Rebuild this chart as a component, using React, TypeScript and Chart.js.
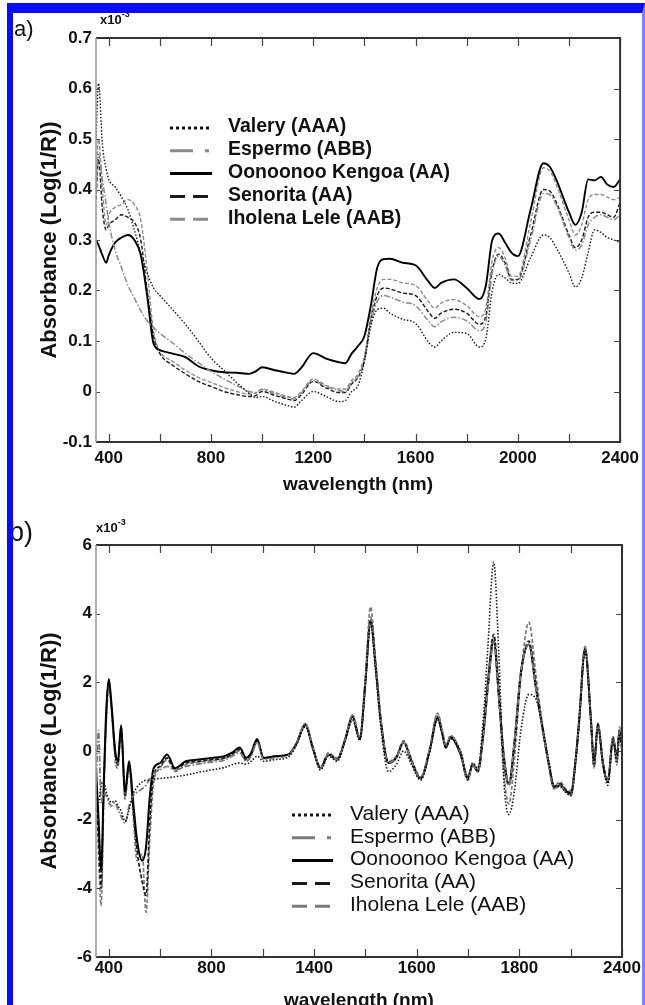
import React, { useEffect, useRef } from 'react';
import { Chart, registerables } from 'chart.js';

Chart.register(...registerables);

const FONT = '"Liberation Sans", Arial, Helvetica, sans-serif';

const seriesNames = ['Valery (AAA)', 'Espermo (ABB)', 'Oonoonoo Kengoa (AA)', 'Senorita (AA)', 'Iholena Lele (AAB)'];

// ---------- panel a: absorbance spectra (x10^-3) ----------
const wavelengthA = [350, 360, 375, 390, 400, 425, 450, 475, 500, 525, 550, 575, 600, 650, 700, 750, 800, 850, 900, 950,
  975, 1000, 1050, 1100, 1125, 1150, 1200, 1250, 1300, 1325, 1350, 1375, 1400, 1425, 1450, 1475, 1500, 1550, 1600, 1650,
  1675, 1700, 1750, 1800, 1850, 1875, 1900, 1925, 1950, 1975, 2000, 2050, 2100, 2125, 2150, 2200, 2225, 2250, 2275, 2300,
  2325, 2350, 2375, 2400];

const valeryA = [0.50, 0.61, 0.49, 0.44, 0.42, 0.405, 0.385, 0.36, 0.32, 0.275, 0.235, 0.205, 0.19, 0.162, 0.133, 0.10, 0.066, 0.042, 0.018, -0.004,
  -0.012, -0.01, -0.02, -0.028, -0.031, -0.02, 0.0, -0.01, -0.02, -0.018, 0.0, 0.012, 0.06, 0.13, 0.162, 0.165, 0.155, 0.143, 0.135, 0.098,
  0.088, 0.1, 0.117, 0.115, 0.088, 0.105, 0.2, 0.232, 0.225, 0.215, 0.214, 0.265, 0.31, 0.305, 0.285, 0.235, 0.207, 0.225, 0.275, 0.32,
  0.315, 0.305, 0.30, 0.295];

const espermoA = [0.40, 0.47, 0.42, 0.37, 0.335, 0.28, 0.245, 0.21, 0.185, 0.16, 0.14, 0.127, 0.115, 0.096, 0.075, 0.057, 0.04, 0.025, 0.012, 0.0,
  -0.002, 0.004, -0.005, -0.012, -0.015, -0.005, 0.022, 0.01, 0.002, 0.0, 0.018, 0.03, 0.06, 0.135, 0.178, 0.19, 0.187, 0.177, 0.17, 0.14,
  0.128, 0.138, 0.147, 0.14, 0.12, 0.138, 0.235, 0.268, 0.25, 0.22, 0.22, 0.30, 0.392, 0.39, 0.37, 0.305, 0.28, 0.29, 0.33, 0.345,
  0.35, 0.345, 0.34, 0.35];

const oonoonooA = [0.30, 0.29, 0.27, 0.255, 0.27, 0.295, 0.305, 0.31, 0.30, 0.27, 0.19, 0.095, 0.082, 0.075, 0.068, 0.05, 0.042, 0.038, 0.037, 0.035,
  0.04, 0.048, 0.042, 0.037, 0.035, 0.045, 0.076, 0.065, 0.058, 0.056, 0.075, 0.09, 0.11, 0.17, 0.245, 0.262, 0.263, 0.255, 0.25, 0.218,
  0.205, 0.215, 0.222, 0.205, 0.183, 0.21, 0.30, 0.313, 0.295, 0.275, 0.268, 0.36, 0.452, 0.445, 0.42, 0.355, 0.33, 0.355, 0.42, 0.418,
  0.425, 0.41, 0.405, 0.42];

const senoritaA = [0.38, 0.46, 0.36, 0.32, 0.33, 0.34, 0.35, 0.345, 0.335, 0.30, 0.20, 0.11, 0.075, 0.052, 0.035, 0.02, 0.01, 0.0, -0.006, -0.01,
  -0.008, 0.0, -0.008, -0.015, -0.018, -0.008, 0.02, 0.007, -0.002, -0.002, 0.015, 0.028, 0.062, 0.14, 0.19, 0.205, 0.203, 0.195, 0.19, 0.158,
  0.145, 0.155, 0.163, 0.155, 0.133, 0.15, 0.24, 0.272, 0.255, 0.222, 0.222, 0.31, 0.40, 0.397, 0.375, 0.31, 0.285, 0.30, 0.345, 0.355,
  0.355, 0.35, 0.345, 0.375];

const iholenaA = [0.42, 0.50, 0.40, 0.33, 0.35, 0.365, 0.37, 0.38, 0.37, 0.34, 0.24, 0.12, 0.08, 0.06, 0.042, 0.028, 0.018, 0.008, 0.0, -0.005,
  -0.003, 0.005, -0.002, -0.01, -0.012, -0.002, 0.025, 0.012, 0.005, 0.005, 0.022, 0.035, 0.07, 0.15, 0.205, 0.222, 0.222, 0.215, 0.21, 0.178,
  0.165, 0.175, 0.182, 0.17, 0.148, 0.165, 0.26, 0.285, 0.265, 0.228, 0.228, 0.335, 0.443, 0.437, 0.41, 0.34, 0.31, 0.33, 0.38, 0.39,
  0.39, 0.385, 0.38, 0.385];

// ---------- panel b: second-derivative spectra (x10^-3) ----------
const wavelengthB = [350, 360, 370, 380, 390, 400, 410, 425, 435, 448,
  463, 479, 495, 510, 530, 545, 560, 575, 600, 627,
  658, 700, 750, 800, 850, 880, 910, 935, 955, 978,
  1003, 1050, 1100, 1130, 1166, 1195, 1225, 1256, 1290, 1320,
  1350, 1378, 1400, 1420, 1440, 1460, 1490, 1520, 1549, 1580,
  1615, 1650, 1681, 1700, 1713, 1732, 1771, 1799, 1818, 1838,
  1860, 1877, 1900, 1920, 1939, 1959, 1980, 2006, 2037, 2065,
  2096, 2115, 2135, 2160, 2180, 2201, 2220, 2233, 2256, 2279,
  2291, 2306, 2326, 2345, 2365, 2380, 2390, 2400];

const valeryB = [-1.2, -1.5, -1.0, -0.9, -1.2, -1.4, -1.5, -1.45, -1.6, -1.75,
  -2.05, -1.7, -1.25, -1.05, -0.9, -0.85, -0.85, -0.82, -0.8, -0.78,
  -0.75, -0.7, -0.62, -0.55, -0.48, -0.4, -0.35, -0.38, -0.3, -0.15,
  -0.3, -0.25, -0.18, 0.15, 0.7, 0.05, -0.55, -0.15, -0.3, 0.25,
  0.9, 0.3, 2.0, 3.7, 2.3, 0.7, -0.6, -0.4, 0.0, -0.4,
  -0.85, -0.05, 0.9, 0.45, 0.1, 0.35, 0.0, -0.75, -0.35, -0.5,
  1.0, 3.0, 5.5, 2.8, -0.8, -1.85, -1.2, 0.6, 1.65, 1.5,
  0.5, -0.3, -1.0, -1.05, -1.2, -1.3, -0.3, 0.8, 2.9, 0.9,
  -0.45, 0.7, -0.4, -1.0, 0.3, -0.4, 0.5, 0.1];

const espermoB = [-1.0, 0.6, -1.5, -1.2, -1.3, -1.5, -1.6, -1.5, -1.7, -1.9,
  -2.1, -1.6, -1.3, -1.2, -1.1, -1.0, -0.8, -0.65, -0.55, -0.45,
  -0.55, -0.45, -0.38, -0.32, -0.27, -0.15, -0.05, -0.3, -0.15, 0.25,
  -0.25, -0.2, -0.12, 0.2, 0.8, 0.1, -0.5, -0.1, -0.25, 0.3,
  1.05, 0.4, 2.1, 3.9, 2.5, 0.9, -0.35, -0.2, 0.25, -0.3,
  -0.8, 0.05, 1.1, 0.55, 0.15, 0.45, -0.05, -0.8, -0.4, -0.6,
  0.5, 1.8, 3.2, 1.6, -0.1, -1.0, 0.2, 2.3, 3.1, 1.8,
  0.4, -0.4, -1.1, -1.0, -1.2, -1.3, -0.2, 0.9, 3.05, 0.9,
  -0.5, 0.8, -0.4, -0.9, 0.4, -0.3, 0.6, 0.3];

const oonoonooB = [-0.5, -2.0, -3.5, -1.0, 1.2, 2.1, 1.4, 0.0, -0.3, 0.75,
  -1.2, -0.3, -1.5, -2.6, -3.2, -2.8, -1.3, -0.5, -0.35, -0.1,
  -0.5, -0.3, -0.25, -0.2, -0.15, -0.05, 0.1, -0.2, -0.05, 0.35,
  -0.2, -0.15, -0.1, 0.2, 0.77, 0.1, -0.5, -0.1, -0.25, 0.3,
  1.0, 0.35, 2.0, 3.8, 2.5, 0.9, -0.35, -0.2, 0.25, -0.3,
  -0.8, 0.0, 0.97, 0.5, 0.1, 0.4, -0.1, -0.8, -0.4, -0.6,
  0.5, 1.85, 3.2, 1.6, -0.1, -0.95, 0.2, 2.3, 3.1, 1.8,
  0.4, -0.4, -1.07, -1.0, -1.15, -1.25, -0.2, 0.9, 3.0, 0.9,
  -0.4, 0.8, -0.4, -0.9, 0.4, -0.2, 0.6, 0.2];

const senoritaB = [-0.8, -2.5, -4.0, -1.2, 1.0, 2.0, 1.3, -0.1, -0.4, 0.7,
  -1.3, -0.4, -1.7, -2.9, -3.8, -4.2, -2.0, -0.7, -0.45, -0.2,
  -0.55, -0.35, -0.3, -0.25, -0.2, -0.1, 0.05, -0.25, -0.1, 0.3,
  -0.2, -0.15, -0.1, 0.2, 0.75, 0.1, -0.5, -0.1, -0.25, 0.3,
  1.0, 0.35, 2.0, 3.8, 2.4, 0.85, -0.35, -0.2, 0.25, -0.3,
  -0.8, 0.0, 1.0, 0.5, 0.1, 0.4, -0.1, -0.85, -0.4, -0.6,
  0.6, 2.0, 3.4, 1.8, -0.2, -1.0, 0.1, 2.2, 3.2, 1.9,
  0.4, -0.4, -1.05, -0.95, -1.15, -1.2, -0.2, 0.85, 2.95, 0.85,
  -0.4, 0.75, -0.35, -0.9, 0.35, -0.25, 0.5, 0.0];

const iholenaB = [-1.0, -3.0, -4.5, -1.5, 0.8, 1.9, 1.2, -0.3, -0.5, 0.6,
  -1.4, -0.5, -1.9, -3.2, -3.0, -4.7, -2.5, -0.9, -0.5, -0.25,
  -0.6, -0.4, -0.33, -0.28, -0.22, -0.12, 0.0, -0.3, -0.12, 0.3,
  -0.22, -0.17, -0.12, 0.2, 0.8, 0.1, -0.45, -0.05, -0.2, 0.35,
  1.05, 0.4, 2.2, 4.2, 2.6, 0.9, -0.3, -0.15, 0.3, -0.25,
  -0.75, 0.05, 1.1, 0.6, 0.15, 0.45, -0.05, -0.75, -0.35, -0.55,
  0.7, 2.1, 3.3, 1.5, -0.6, -1.55, -0.3, 2.2, 3.75, 2.2,
  0.45, -0.35, -1.0, -0.9, -1.1, -1.15, -0.15, 0.95, 3.0, 0.95,
  -0.35, 0.8, -0.3, -0.8, 0.4, -0.2, 0.7, 0.4];

// ---------- ticks ----------
const xTickValues = [400, 800, 1200, 1600, 2000, 2400];
const xTickLabelsA = ['400', '800', '1200', '1600', '2000', '2400'];
const xTickLabelsB = ['400', '800', '1400', '1600', '1800', '2400'];
const xMinorTicks = [400, 600, 800, 1000, 1200, 1400, 1600, 1800, 2000, 2200, 2400];
const yTicksA = [-0.1, 0, 0.1, 0.2, 0.3, 0.4, 0.5, 0.6, 0.7];
const yTickLabelsA = ['-0.1', '0', '0.1', '0.2', '0.3', '0.4', '0.5', '0.6', '0.7'];
const yTicksB = [-6, -4, -2, 0, 2, 4, 6];
const yTickLabelsB = ['-6', '-4', '-2', '0', '2', '4', '6'];

const lineStylesA = [
  { color: '#151515', width: 1.4, dash: [1.5, 1.8], legendDash: [3, 3] },
  { color: '#8a8a8a', width: 1.5, dash: [6, 2, 1.5, 2], legendDash: [23, 12, 4, 30] },
  { color: '#000000', width: 1.9, dash: [], legendDash: [] },
  { color: '#1a1a1a', width: 1.4, dash: [4, 2], legendDash: [15, 8] },
  { color: '#8c8c8c', width: 1.4, dash: [4, 2], legendDash: [15, 8] },
];
const lineStylesB = [
  { color: '#151515', width: 1.6, dash: [1.5, 1.8], legendDash: [3, 3] },
  { color: '#7a7a7a', width: 1.8, dash: [6, 2, 1.5, 2], legendDash: [23, 12, 4, 30] },
  { color: '#000000', width: 2.0, dash: [], legendDash: [] },
  { color: '#1a1a1a', width: 1.7, dash: [4, 2], legendDash: [15, 8] },
  { color: '#7c7c7c', width: 1.7, dash: [4, 2], legendDash: [15, 8] },
];

type Style = { color: string; width: number; dash: number[]; legendDash: number[] };

function makeFramePlugin(yTicks: number[]) {
  return {
    id: 'frame',
    afterDatasetsDraw(chart: any) {
      const { ctx, chartArea } = chart;
      const { left, right, top, bottom } = chartArea;
      const x = chart.scales.x;
      const y = chart.scales.y;
      ctx.save();
      ctx.strokeStyle = '#444';
      ctx.lineWidth = 1.2;
      ctx.beginPath();
      for (const v of xMinorTicks) {
        const px = Math.round(x.getPixelForValue(v)) + 0.5;
        ctx.moveTo(px, bottom);
        ctx.lineTo(px, bottom - 8);
        ctx.moveTo(px, top);
        ctx.lineTo(px, top + 8);
      }
      for (const v of yTicks) {
        const py = Math.round(y.getPixelForValue(v)) + 0.5;
        ctx.moveTo(left, py);
        ctx.lineTo(left + 4, py);
        ctx.moveTo(right, py);
        ctx.lineTo(right - 6, py);
      }
      ctx.stroke();
      ctx.lineWidth = 2;
      ctx.strokeStyle = '#333';
      ctx.beginPath();
      ctx.moveTo(left, top);
      ctx.lineTo(right, top);
      ctx.lineTo(right, bottom);
      ctx.lineTo(left, bottom);
      ctx.stroke();
      ctx.strokeStyle = '#999';
      ctx.lineWidth = 1.6;
      ctx.beginPath();
      ctx.moveTo(left, top);
      ctx.lineTo(left, bottom);
      ctx.stroke();
      ctx.restore();
    },
  };
}

function makeLegendPlugin(p: { x0: number; x1: number; textX: number; y0: number; rowH: number; font: string }, styles: Style[]) {
  return {
    id: 'insideLegend',
    afterDatasetsDraw(chart: any) {
      const { ctx } = chart;
      ctx.save();
      chart.data.datasets.forEach((ds: any, i: number) => {
        const st = styles[i];
        const yy = p.y0 + i * p.rowH;
        ctx.strokeStyle = st.color;
        ctx.lineWidth = 3;
        ctx.setLineDash(st.legendDash);
        ctx.beginPath();
        ctx.moveTo(p.x0, yy);
        ctx.lineTo(p.x1, yy);
        ctx.stroke();
        ctx.setLineDash([]);
        ctx.fillStyle = '#111';
        ctx.font = p.font;
        ctx.textBaseline = 'middle';
        ctx.textAlign = 'left';
        ctx.fillText(ds.label, p.textX, yy - 1);
      });
      ctx.restore();
    },
  };
}

type Cfg = {
  wavelengths: number[];
  values: number[][];
  styles: Style[];
  yMin: number;
  yMax: number;
  yTicks: number[];
  yTickLabels: string[];
  xTickLabels: string[];
  canvasHeight: number;
  padTop: number;
  chartBottom: number;
  xTickPad: number;
  xTitlePadBottom: number;
  legend: { x0: number; x1: number; textX: number; y0: number; rowH: number; font: string };
};

function buildConfig(c: Cfg): any {
  return {
    type: 'line',
    data: {
      datasets: seriesNames.map((name, i) => ({
        label: name,
        data: c.wavelengths.map((w, j) => ({ x: w, y: c.values[i][j] })),
        borderColor: c.styles[i].color,
        borderWidth: c.styles[i].width,
        borderDash: c.styles[i].dash,
        pointRadius: 0,
        fill: false,
        cubicInterpolationMode: 'monotone',
      })),
    },
    options: {
      animation: false,
      responsive: false,
      maintainAspectRatio: false,
      devicePixelRatio: 1,
      layout: { padding: { top: c.padTop, right: 23, left: 0, bottom: 0 } },
      plugins: { legend: { display: false }, tooltip: { enabled: false } },
      scales: {
        x: {
          type: 'linear',
          min: 350,
          max: 2400,
          afterFit: (s: any) => { s.height = c.canvasHeight - c.chartBottom; },
          afterBuildTicks: (s: any) => { s.ticks = xTickValues.map((v) => ({ value: v })); },
          ticks: {
            autoSkip: false,
            maxRotation: 0,
            padding: c.xTickPad,
            color: '#111',
            font: { family: FONT, size: 17, weight: 'bold' },
            callback: (v: number) => {
              const k = xTickValues.indexOf(v);
              return k >= 0 ? c.xTickLabels[k] : '';
            },
          },
          grid: { display: false, drawTicks: false },
          border: { display: false },
          title: {
            display: true,
            text: 'wavelength (nm)',
            color: '#111',
            font: { family: FONT, size: 19, weight: 'bold' },
            padding: { top: 0, bottom: c.xTitlePadBottom },
          },
        },
        y: {
          type: 'linear',
          min: c.yMin,
          max: c.yMax,
          afterFit: (s: any) => { s.width = 96; },
          afterBuildTicks: (s: any) => { s.ticks = c.yTicks.map((v) => ({ value: v })); },
          ticks: {
            autoSkip: false,
            padding: 4,
            color: '#111',
            font: { family: FONT, size: 17, weight: 'bold' },
            callback: (v: number) => {
              const k = c.yTicks.findIndex((t) => Math.abs(t - v) < 1e-9);
              return k >= 0 ? c.yTickLabels[k] : '';
            },
          },
          grid: { display: false, drawTicks: false },
          border: { display: false },
          title: {
            display: true,
            text: 'Absorbance (Log(1/R))',
            color: '#111',
            font: { family: FONT, size: 22, weight: 'bold' },
            padding: { top: 37, bottom: 0 },
          },
        },
      },
    },
    plugins: [makeFramePlugin(c.yTicks), makeLegendPlugin(c.legend, c.styles)],
  };
}

const HEIGHT_A = 505;
const TOP_B = 505;
const HEIGHT_B = 520;

export default function App() {
  const refA = useRef<HTMLCanvasElement>(null);
  const refB = useRef<HTMLCanvasElement>(null);

  useEffect(() => {
    const chartA = new Chart(refA.current as HTMLCanvasElement, buildConfig({
      wavelengths: wavelengthA,
      values: [valeryA, espermoA, oonoonooA, senoritaA, iholenaA],
      styles: lineStylesA,
      yMin: -0.1,
      yMax: 0.7,
      yTicks: yTicksA,
      yTickLabels: yTickLabelsA,
      xTickLabels: xTickLabelsA,
      canvasHeight: HEIGHT_A,
      padTop: 38,
      chartBottom: 442,
      xTickPad: 6,
      xTitlePadBottom: 9,
      legend: { x0: 170, x1: 212, textX: 228, y0: 128, rowH: 22.8, font: `bold 19.5px ${FONT}` },
    }));
    const chartB = new Chart(refB.current as HTMLCanvasElement, buildConfig({
      wavelengths: wavelengthB,
      values: [valeryB, espermoB, oonoonooB, senoritaB, iholenaB],
      styles: lineStylesB,
      yMin: -6,
      yMax: 6,
      yTicks: yTicksB,
      yTickLabels: yTickLabelsB,
      xTickLabels: xTickLabelsB,
      canvasHeight: HEIGHT_B,
      padTop: 545 - TOP_B,
      chartBottom: 957 - TOP_B,
      xTickPad: 1,
      xTitlePadBottom: 13,
      legend: { x0: 292, x1: 333, textX: 350, y0: 815 - TOP_B, rowH: 22.8, font: `21px ${FONT}` },
    }));
    return () => {
      chartA.destroy();
      chartB.destroy();
    };
  }, []);

  const labelStyle: React.CSSProperties = { position: 'absolute', fontFamily: FONT, color: '#111', lineHeight: 1, whiteSpace: 'nowrap' };

  return (
    <div style={{ position: 'absolute', left: 0, top: 0, width: 645, height: 1005, overflow: 'hidden', background: '#fff' }}>
      <canvas ref={refA} width={645} height={HEIGHT_A} style={{ position: 'absolute', left: 0, top: 0, width: 645, height: HEIGHT_A }} />
      <canvas ref={refB} width={645} height={HEIGHT_B} style={{ position: 'absolute', left: 0, top: TOP_B, width: 645, height: HEIGHT_B }} />
      <div style={{ ...labelStyle, left: 14, top: 18, fontSize: 22 }}>a)</div>
      <div style={{ ...labelStyle, left: 100, top: 13, fontSize: 13, fontWeight: 'bold' }}>
        x10<sup style={{ fontSize: 9, verticalAlign: 'top', position: 'relative', top: -3 }}>-3</sup>
      </div>
      <div style={{ ...labelStyle, left: 9, top: 519, fontSize: 27 }}>b)</div>
      <div style={{ ...labelStyle, left: 96, top: 521, fontSize: 13, fontWeight: 'bold' }}>
        x10<sup style={{ fontSize: 9, verticalAlign: 'top', position: 'relative', top: -3 }}>-3</sup>
      </div>
      <div style={{ position: 'absolute', left: 7, top: 3, width: 638, height: 1002, boxSizing: 'border-box', borderLeft: '6px solid #0a0aff', borderTop: '10px solid #0a0aff', borderRight: '3px solid #7f7fff', pointerEvents: 'none' }} />
    </div>
  );
}
